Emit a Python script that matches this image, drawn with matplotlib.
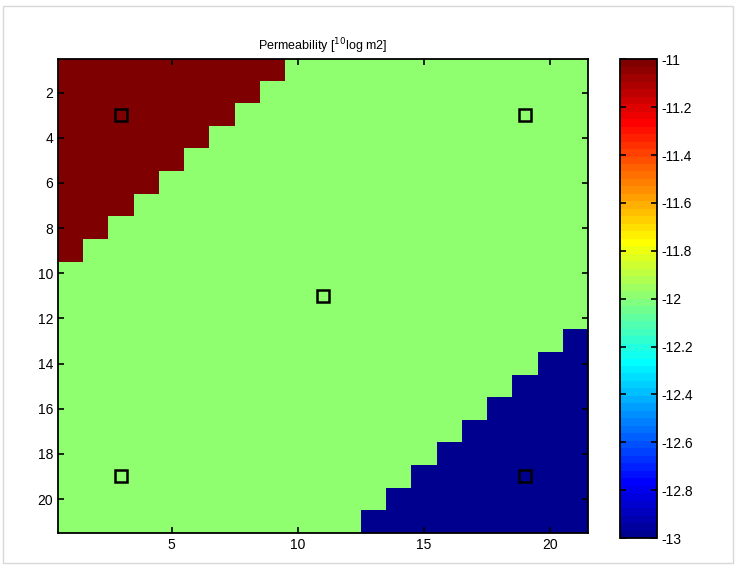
import numpy as np
import matplotlib
matplotlib.use("Agg")
import matplotlib.pyplot as plt
from matplotlib.colors import ListedColormap
from matplotlib.patches import Rectangle

plt.rcParams["font.family"] = ["Liberation Sans", "DejaVu Sans"]
plt.rcParams["axes.unicode_minus"] = False

# Permeability values (10log m2) of the three zones
high_perm = -11.0
mid_perm = -12.0
low_perm = -13.0

# number of high-perm cells from the left, per row (rows 1..21)
red_cells_per_row = [9, 8, 7, 6, 5, 4, 3, 2, 1, 0, 0, 0, 0, 0, 0, 0, 0, 0, 0, 0, 0]
# number of low-perm cells from the right, per row
blue_cells_per_row = [0, 0, 0, 0, 0, 0, 0, 0, 0, 0, 0, 0, 1, 2, 3, 4, 5, 6, 7, 8, 9]

# well locations
wells_x = [3, 19, 11, 3, 19]
wells_y = [3, 3, 11, 19, 19]

n = len(red_cells_per_row)
grid = np.full((n, n), mid_perm)
for r in range(n):
    grid[r, : red_cells_per_row[r]] = high_perm
    if blue_cells_per_row[r] > 0:
        grid[r, n - blue_cells_per_row[r]:] = low_perm


# matlab style jet(64)
def matlab_jet(N=64):
    m = int(np.ceil(N / 4))
    u = np.concatenate([np.arange(1, m + 1) / m, np.ones(m - 1), np.arange(m, 0, -1) / m])
    g = int(np.ceil(m / 2)) - (N % 4 == 1) + np.arange(1, len(u) + 1)
    r = g + m
    b = g - m
    cols = np.zeros((N, 3))
    for idx, ch in ((r, 0), (g, 1), (b, 2)):
        ok = (idx >= 1) & (idx <= N)
        cols[idx[ok] - 1, ch] = u[ok]
    return ListedColormap(cols)


fig = plt.figure(figsize=(7.39, 5.70), dpi=100)
ax = fig.add_axes([0.0785, 0.065, 0.717, 0.832])
cax = fig.add_axes([0.839, 0.056, 0.050, 0.840])

cmap = matlab_jet(64)
im = ax.imshow(grid, cmap=cmap, vmin=-13, vmax=-11, aspect="auto",
               extent=[0.5, n + 0.5, n + 0.5, 0.5], interpolation="nearest")
ax.plot(wells_x, wells_y, "s", markersize=9, markerfacecolor="none",
        markeredgecolor="black", markeredgewidth=1.8)

ax.set_xlim(0.5, n + 0.5)
ax.set_ylim(n + 0.5, 0.5)
ax.set_xticks([5, 10, 15, 20])
ax.set_yticks(np.arange(2, 21, 2))
ax.tick_params(direction="in", labelsize=10, length=4, width=1.2,
               top=True, right=True)
for s in ax.spines.values():
    s.set_linewidth(1.3)
ax.set_title("Permeability [$^{10}$log m2]", fontsize=9, pad=6)

cb_ticks = np.arange(-13, -10.99, 0.2)
cb = fig.colorbar(im, cax=cax, ticks=cb_ticks)
cb.ax.set_yticklabels(["%g" % round(t, 1) for t in cb_ticks])
cb.ax.tick_params(direction="in", labelsize=10, length=4, width=1.2, left=True)
cb.outline.set_linewidth(1.3)

fig.patches.append(Rectangle((0.004, 0.012), 0.988, 0.978, transform=fig.transFigure,
                             fill=False, edgecolor="#d8d8d8", linewidth=1))

fig.savefig("out.png", dpi=100)
